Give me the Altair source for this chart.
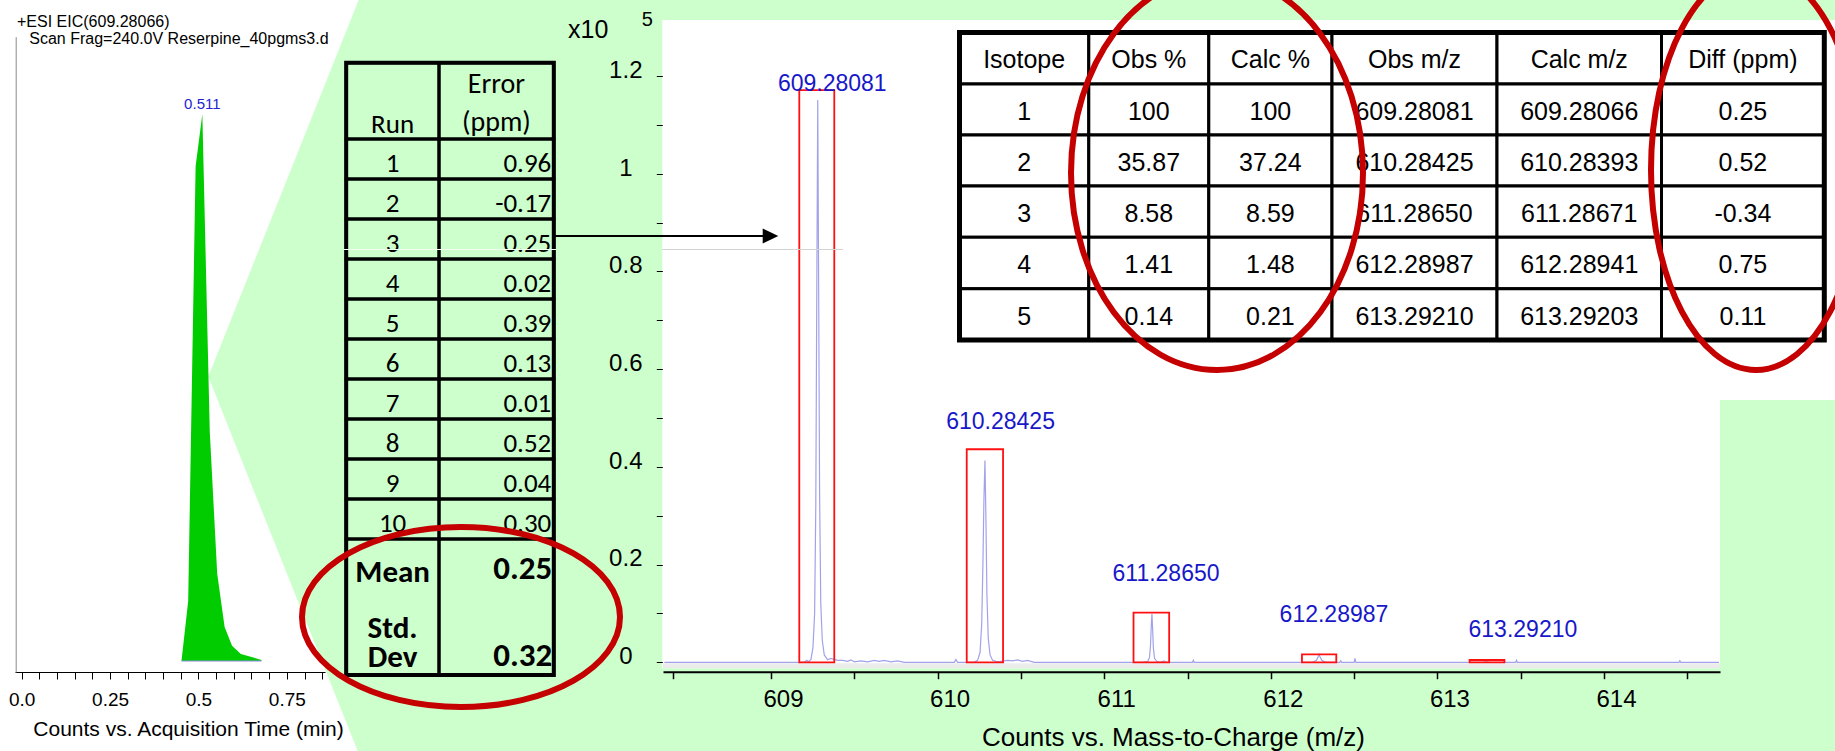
import altair as alt
import pandas as pd

# ---------------------------------------------------------------------------
# Data
# ---------------------------------------------------------------------------
# Extracted ion chromatogram of m/z 609.28066 (relative response, apex = 100)
eic_title = "+ESI EIC(609.28066)"
eic_subtitle = "Scan Frag=240.0V Reserpine_40pgms3.d"
eic_time = [0.452, 0.471, 0.488, 0.492, 0.511, 0.532, 0.553, 0.574, 0.595, 0.620, 0.678]
eic_response = [0.0, 11.0, 75.5, 90.5, 100.0, 42.0, 16.0, 6.2, 2.8, 1.3, 0.2]
eic_apex_rt = 0.511
eic_ticks = [0.0, 0.05, 0.1, 0.15, 0.2, 0.25, 0.3, 0.35, 0.4, 0.45,
             0.5, 0.55, 0.6, 0.65, 0.7, 0.75, 0.8, 0.85]
eic_tick_labels = [0.0, 0.25, 0.5, 0.75]

# Mass error of ten replicate injections
run_numbers = [1, 2, 3, 4, 5, 6, 7, 8, 9, 10]
run_error_ppm = [0.96, -0.17, 0.25, 0.02, 0.39, 0.13, 0.01, 0.52, 0.04, 0.30]
run_mean_ppm = 0.25
run_std_ppm = 0.32

# Isotope pattern of the [M+H]+ ion
iso_columns = ["Isotope", "Obs %", "Calc %", "Obs m/z", "Calc m/z", "Diff (ppm)"]
iso_number = [1, 2, 3, 4, 5]
iso_obs_pct = [100, 35.87, 8.58, 1.41, 0.14]
iso_calc_pct = [100, 37.24, 8.59, 1.48, 0.21]
iso_obs_mz = [609.28081, 610.28425, 611.28650, 612.28987, 613.29210]
iso_calc_mz = [609.28066, 610.28393, 611.28671, 612.28941, 613.29203]
iso_diff_ppm = [0.25, 0.52, -0.34, 0.75, 0.11]

# Profile spectrum, counts x10^5 (apex heights = 1.151 x Obs %)
trace_mz = [
    608.36, 609.20, 609.215, 609.225, 609.240, 609.252, 609.262, 609.269, 609.275,
    609.28081, 609.286, 609.292, 609.299, 609.308, 609.320, 609.340, 609.360, 609.380,
    609.400, 609.430, 609.460, 609.480, 609.500, 609.540, 609.580, 609.620, 609.650,
    609.680, 609.720, 609.760, 609.800,
    610.100, 610.110, 610.120, 610.220, 610.240, 610.255, 610.265, 610.272, 610.278,
    610.28425, 610.290, 610.296, 610.304, 610.315, 610.330, 610.360, 610.420, 610.450,
    610.480, 610.510, 610.540, 610.580,
    611.230, 611.262, 611.272, 611.278, 611.283, 611.28650, 611.290, 611.295, 611.302,
    611.315, 611.335, 611.360, 611.370, 611.530, 611.535, 611.540,
    612.250, 612.274, 612.284, 612.28987, 612.296, 612.306, 612.330, 612.415, 612.420,
    612.425, 612.500, 612.505, 612.510,
    613.270, 613.29210, 613.315, 613.470, 613.475, 613.480,
    614.450, 614.455, 614.460, 614.690,
]
trace_counts = [
    0.0, 0.0, 0.004, 0.001, 0.006, 0.030, 0.100, 0.320, 0.760,
    1.151, 0.780, 0.340, 0.120, 0.045, 0.015, 0.005, 0.008, 0.006,
    0.004, 0.004, 0.002, 0.005, 0.001, 0.003, 0.001, 0.004, 0.002,
    0.004, 0.001, 0.003, 0.0,
    0.0, 0.006, 0.0, 0.0, 0.004, 0.020, 0.080, 0.200, 0.330,
    0.4129, 0.300, 0.140, 0.050, 0.015, 0.004, 0.001, 0.004, 0.003,
    0.005, 0.002, 0.004, 0.0,
    0.0, 0.002, 0.010, 0.035, 0.078, 0.0988, 0.074, 0.030, 0.008,
    0.002, 0.0, 0.003, 0.0, 0.0, 0.004, 0.0,
    0.0, 0.004, 0.011, 0.0162, 0.011, 0.004, 0.0, 0.0, 0.003,
    0.0, 0.0, 0.008, 0.0,
    0.0, 0.0016, 0.0, 0.0, 0.004, 0.0,
    0.0, 0.003, 0.0, 0.0,
]

# Extraction windows drawn around each isotope
window_lo = [609.170, 610.175, 611.176, 612.187, 613.193]
window_hi = [609.380, 610.393, 611.390, 612.393, 613.402]
window_top = [1.171, 0.436, 0.1015, 0.0164, 0.0047]

# Peak annotation anchors (m/z, counts x10^5)
peak_label_mz = [609.368, 610.378, 611.371, 612.379, 613.513]
peak_label_y = [1.170, 0.477, 0.167, 0.082, 0.0514]

ms_ticks = [608.41, 609.0, 609.5, 610.0, 610.5, 611.0, 611.5, 612.0,
            612.5, 613.0, 613.5, 614.0, 614.5]
ms_count_ticks = [0.0, 0.1, 0.2, 0.3, 0.4, 0.5, 0.6, 0.7, 0.8, 0.9, 1.0, 1.1, 1.2]

# ---------------------------------------------------------------------------
# Layout (pixels on the 1835 x 751 canvas)
# ---------------------------------------------------------------------------
W, H = 1835, 751
GREEN = "#ccffcc"
RED_RING = "#c40000"
ARIAL = "Liberation Sans"
CALIBRI = "Carlito, Lato"
ONE = pd.DataFrame({"k": [0]})

X_EIC = alt.Scale(domain=[-0.01895, 0.85799], range=[15, 325], nice=False, zero=False)
Y_EIC = alt.Scale(domain=[-2.01, 114.2], range=[672, 36.7], nice=False, zero=False)
X_MS = alt.Scale(domain=[608.352, 614.696], range=[663, 1720], nice=False, zero=False)
Y_MS = alt.Scale(domain=[-0.0123, 1.3146], range=[668.3, 20], nice=False, zero=False)

RUN_X = alt.Scale(domain=[0, 1, 2], range=[346.2, 439, 553.8], nice=False, zero=False)
RUN_Y = alt.Scale(domain=list(range(13)),
                  range=[62.8, 139, 179, 219, 259, 299, 339, 379, 419, 459, 499, 539, 675],
                  nice=False, zero=False)
ISO_X = alt.Scale(domain=[0, 1, 2, 3, 4, 5, 6],
                  range=[959.5, 1088.8, 1208.8, 1332, 1497, 1661.5, 1824.3], nice=False, zero=False)
ISO_Y = alt.Scale(domain=[0, 1, 2, 3, 4, 5, 6],
                  range=[32.5, 84, 135, 186, 237.3, 288.7, 340], nice=False, zero=False)

RUN_FONT = 27
RUN_BOLD_LABEL = 31
RUN_BOLD_VALUE = 33


def note(text, x, y, size, color="black", font=ARIAL, align="left", weight="normal"):
    return alt.Chart(ONE).mark_text(
        text=text, align=align, baseline="alphabetic", fontSize=size, font=font,
        color=color, fontWeight=weight,
    ).encode(x=alt.value(x), y=alt.value(y))


def shape(path, x, y, color, filled, stroke_width=0):
    return alt.Chart(ONE).mark_point(
        shape=path, size=4, filled=filled, color=color, opacity=1, strokeWidth=stroke_width,
    ).encode(x=alt.value(x), y=alt.value(y))


def ellipse(cx, cy, rx, ry):
    path = f"M{-rx},0A{rx},{ry} 0 1,0 {rx},0A{rx},{ry} 0 1,0 {-rx},0Z"
    return shape(path, cx, cy, RED_RING, False, 6)


def box(x0, x1, y0, y1, color):
    return alt.Chart(ONE).mark_rect(color=color).encode(
        x=alt.value(x0), x2=alt.value(x1), y=alt.value(y0), y2=alt.value(y1))


def cell_text(text, col, row, sx, sy, dy, size, align="center", dx=0,
              font=CALIBRI, weight="normal"):
    return alt.Chart(ONE).mark_text(
        text=text, align=align, baseline="alphabetic", dx=dx, dy=dy, fontSize=size,
        font=font, fontWeight=weight, color="black",
    ).encode(x=alt.XDatum(col, scale=sx, axis=None), y=alt.YDatum(row, scale=sy, axis=None))


layers = []

# Callout background
layers.append(shape("M358.6,0L208.3,376.6L357.7,751L1835,751L1835,0Z", 0, 0, GREEN, True))

# Spectrum plotting area
layers.append(box(662.3, 1720, 20, 668.3, "white"))
layers.append(box(1720, 1835, 20, 400, "white"))
layers.append(box(663, 1720, 663.2, 668.3, "#ececec"))

# ---------------------------------------------------------------------------
# Chromatogram
# ---------------------------------------------------------------------------
eic_df = pd.DataFrame({"t": eic_time, "r": eic_response})
eic_label_expr = (
    "indexof([" + ",".join(str(v) for v in eic_tick_labels) + "], datum.value) >= 0 ? "
    "(datum.value === 0 ? '0.0' : format(datum.value, '~g')) : ''"
)
eic_x_axis = alt.Axis(
    orient="bottom", offset=-79, values=eic_ticks, labelExpr=eic_label_expr,
    labelFont=ARIAL, labelFontSize=19, labelColor="black", labelPadding=11,
    labelFlush=False, labelOverlap=False, tickSize=7, tickColor="black", tickWidth=1,
    domainColor="black", domainWidth=1.2, grid=False, zindex=1,
    title="Counts vs. Acquisition Time (min)", titleFont=ARIAL, titleFontSize=21,
    titleFontWeight="normal", titleColor="black", titleX=188, titleY=63,
    titleAlign="center", titleBaseline="alphabetic",
)
eic_y_axis = alt.Axis(orient="left", offset=-15.7, ticks=False, labels=False, title=None,
                      grid=False, domainColor="#8c8c8c", domainWidth=1, zindex=1)
layers.append(
    alt.Chart(eic_df).mark_area(color="#00cc00", opacity=1).encode(
        x=alt.X("t:Q", scale=X_EIC, axis=eic_x_axis),
        y=alt.Y("r:Q", scale=Y_EIC, axis=eic_y_axis),
        y2=alt.datum(0),
    )
)
eic_base = pd.DataFrame({"t0": [eic_time[0]], "t1": [eic_time[-1]], "r": [0.0]})
layers.append(
    alt.Chart(eic_base).mark_rule(color="#8a8ae0", strokeWidth=1).encode(
        x=alt.X("t0:Q", scale=X_EIC, axis=None), x2="t1:Q",
        y=alt.Y("r:Q", scale=Y_EIC, axis=None),
    )
)
eic_apex = pd.DataFrame({"t": [eic_apex_rt], "r": [100.0], "txt": [f"{eic_apex_rt:.3f}"]})
layers.append(
    alt.Chart(eic_apex).mark_text(fontSize=15, font=ARIAL, color="#2424d4", dy=-5,
                                  baseline="alphabetic", align="center").encode(
        x=alt.X("t:Q", scale=X_EIC, axis=None), y=alt.Y("r:Q", scale=Y_EIC, axis=None),
        text="txt:N",
    )
)
layers.append(note(eic_title, 17, 26.7, 16))
layers.append(note(eic_subtitle, 29.3, 44.3, 16))

# ---------------------------------------------------------------------------
# Mass spectrum
# ---------------------------------------------------------------------------
ms_x_axis = alt.Axis(
    orient="bottom", offset=-79.3, values=ms_ticks,
    labelExpr="datum.value % 1 === 0 ? format(datum.value, 'd') : ''",
    labelFont=ARIAL, labelFontSize=24, labelColor="black", labelPadding=9, labelOffset=12,
    labelFlush=False, labelOverlap=False, tickSize=7, tickColor="black", tickWidth=1.5,
    domainColor="black", domainWidth=2, grid=False, zindex=1,
    title="Counts vs. Mass-to-Charge (m/z)", titleFont=ARIAL, titleFontSize=26,
    titleFontWeight="normal", titleColor="black", titleX=1173, titleY=73.5,
    titleAlign="center", titleBaseline="alphabetic",
)
ms_y_axis = alt.Axis(
    orient="left", offset=-662.3, domain=False, values=ms_count_ticks,
    labelExpr="round(datum.value * 10) % 2 === 0 ? format(datum.value, '~g') : ''",
    labelAlign="center", labelBaseline="middle", labelPadding=31, labelOffset=-5.7,
    labelFont=ARIAL, labelFontSize=24, labelColor="black", labelFlush=False,
    labelOverlap=False, tickSize=6, tickColor="black", tickWidth=1, title=None,
    grid=False, zindex=1,
)
trace_df = pd.DataFrame({"mz": trace_mz, "counts": trace_counts})
layers.append(
    alt.Chart(trace_df).mark_line(color="#a2a2ea", strokeWidth=1.2).encode(
        x=alt.X("mz:Q", scale=X_MS, axis=ms_x_axis),
        y=alt.Y("counts:Q", scale=Y_MS, axis=ms_y_axis),
        order="mz:Q",
    )
)
win_df = pd.DataFrame({"lo": window_lo, "hi": window_hi, "top": window_top})
layers.append(
    alt.Chart(win_df).mark_rect(filled=False, color="#ff1010", strokeWidth=1.8, opacity=1).encode(
        x=alt.X("lo:Q", scale=X_MS, axis=None), x2="hi:Q",
        y=alt.Y("top:Q", scale=Y_MS, axis=None), y2=alt.datum(0),
    )
)
lab_df = pd.DataFrame({"mz": peak_label_mz, "y": peak_label_y,
                       "txt": [f"{v:.5f}" for v in iso_obs_mz]})
layers.append(
    alt.Chart(lab_df).mark_text(fontSize=23, font=ARIAL, color="#1818c8", align="center",
                                baseline="alphabetic").encode(
        x=alt.X("mz:Q", scale=X_MS, axis=None), y=alt.Y("y:Q", scale=Y_MS, axis=None),
        text="txt:N",
    )
)
layers.append(note("x10", 568, 38.3, 25))
layers.append(note("5", 641.7, 26, 20))

# ---------------------------------------------------------------------------
# Replicate-run table
# ---------------------------------------------------------------------------
run_cells = pd.DataFrame(
    [{"c0": c, "c1": c + 1, "r0": r, "r1": r + 1} for r in range(12) for c in range(2)]
)
layers.append(
    alt.Chart(run_cells).mark_rect(filled=False, color="black", strokeWidth=3, opacity=1).encode(
        x=alt.X("c0:Q", scale=RUN_X, axis=None), x2="c1:Q",
        y=alt.Y("r0:Q", scale=RUN_Y, axis=None), y2="r1:Q",
    )
)
run_outer = pd.DataFrame({"c0": [0], "c1": [2], "r0": [0], "r1": [12]})
layers.append(
    alt.Chart(run_outer).mark_rect(filled=False, color="black", strokeWidth=4, opacity=1).encode(
        x=alt.X("c0:Q", scale=RUN_X, axis=None), x2="c1:Q",
        y=alt.Y("r0:Q", scale=RUN_Y, axis=None), y2="r1:Q",
    )
)
run_df = pd.DataFrame({
    "row": run_numbers,
    "run": [str(n) for n in run_numbers],
    "err": [f"{e:.2f}" for e in run_error_ppm],
})
layers.append(
    alt.Chart(run_df).mark_text(fontSize=RUN_FONT, font=CALIBRI, color="black", align="center",
                                baseline="alphabetic", dy=33).encode(
        x=alt.XDatum(0.5, scale=RUN_X, axis=None),
        y=alt.Y("row:Q", scale=RUN_Y, axis=None), text="run:N",
    )
)
layers.append(
    alt.Chart(run_df).mark_text(fontSize=RUN_FONT, font=CALIBRI, color="black", align="right",
                                baseline="alphabetic", dy=33, dx=-2.5).encode(
        x=alt.XDatum(2, scale=RUN_X, axis=None),
        y=alt.Y("row:Q", scale=RUN_Y, axis=None), text="err:N",
    )
)
layers.append(cell_text("Run", 0.5, 0, RUN_X, RUN_Y, 69.8, RUN_FONT))
layers.append(cell_text("Error", 1.5, 0, RUN_X, RUN_Y, 30, RUN_FONT + 1))
layers.append(cell_text("(ppm)", 1.5, 0, RUN_X, RUN_Y, 68.3, RUN_FONT + 1))
layers.append(cell_text("Mean", 0.5, 11, RUN_X, RUN_Y, 42.5, RUN_BOLD_LABEL, weight="bold"))
layers.append(cell_text("Std.", 0.5, 11, RUN_X, RUN_Y, 98.5, RUN_BOLD_LABEL, weight="bold"))
layers.append(cell_text("Dev", 0.5, 11, RUN_X, RUN_Y, 128, RUN_BOLD_LABEL, weight="bold"))
layers.append(cell_text(f"{run_mean_ppm:.2f}", 2, 11, RUN_X, RUN_Y, 39.5, RUN_BOLD_VALUE,
                        align="right", dx=-1.5, weight="bold"))
layers.append(cell_text(f"{run_std_ppm:.2f}", 2, 11, RUN_X, RUN_Y, 126.5, RUN_BOLD_VALUE,
                        align="right", dx=-1.5, weight="bold"))

# faint guide line
layers.append(alt.Chart(ONE).mark_rule(color="#f4fff4", strokeWidth=1).encode(
    x=alt.value(344), x2=alt.value(556), y=alt.value(249.5)))
layers.append(alt.Chart(ONE).mark_rule(color="#d4d4d4", strokeWidth=1).encode(
    x=alt.value(662.3), x2=alt.value(843), y=alt.value(249.5)))

# ---------------------------------------------------------------------------
# Isotope table
# ---------------------------------------------------------------------------
iso_rows = [iso_columns] + [
    [str(n), f"{o:g}", f"{c:g}", f"{om:.5f}", f"{cm:.5f}", f"{d:.2f}"]
    for n, o, c, om, cm, d in zip(iso_number, iso_obs_pct, iso_calc_pct,
                                  iso_obs_mz, iso_calc_mz, iso_diff_ppm)
]
iso_df = pd.DataFrame(
    [{"c0": c, "c1": c + 1, "cx": c + 0.5, "r0": r, "r1": r + 1, "txt": iso_rows[r][c]}
     for r in range(6) for c in range(6)]
)
layers.append(
    alt.Chart(iso_df).mark_rect(fill="white", stroke="black", strokeWidth=3, opacity=1).encode(
        x=alt.X("c0:Q", scale=ISO_X, axis=None), x2="c1:Q",
        y=alt.Y("r0:Q", scale=ISO_Y, axis=None), y2="r1:Q",
    )
)
iso_outer = pd.DataFrame({"c0": [0], "c1": [6], "r0": [0], "r1": [6]})
layers.append(
    alt.Chart(iso_outer).mark_rect(filled=False, color="black", strokeWidth=5, opacity=1).encode(
        x=alt.X("c0:Q", scale=ISO_X, axis=None), x2="c1:Q",
        y=alt.Y("r0:Q", scale=ISO_Y, axis=None), y2="r1:Q",
    )
)
layers.append(
    alt.Chart(iso_df).mark_text(fontSize=25, font=ARIAL, color="black", align="center",
                                baseline="alphabetic", dy=35.8).encode(
        x=alt.X("cx:Q", scale=ISO_X, axis=None),
        y=alt.Y("r0:Q", scale=ISO_Y, axis=None), text="txt:N",
    )
)

# Arrow from the run table into the spectrum
layers.append(alt.Chart(ONE).mark_rule(color="black", strokeWidth=2).encode(
    x=alt.value(554), x2=alt.value(765), y=alt.value(236)))
layers.append(shape("M-15.6,-7.5L0,0L-15.6,7.5Z", 778.3, 236, "black", True))

# Highlight rings
layers.append(ellipse(461, 617, 159, 90))
layers.append(ellipse(1217, 173, 146, 197))
layers.append(ellipse(1756, 170, 105, 200))

chart = (
    alt.layer(*layers)
    .resolve_scale(x="independent", y="independent")
    .properties(width=W, height=H, padding=0, background="white",
                autosize=alt.AutoSizeParams(type="none"))
    .configure_view(stroke=None)
)

chart.save("out.html", embed_options={"renderer": "svg", "actions": False})
